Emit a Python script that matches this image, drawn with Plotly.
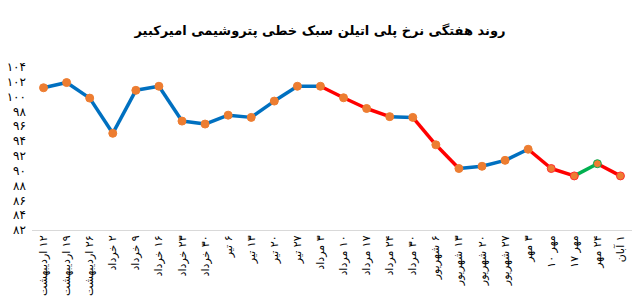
import plotly.graph_objects as go

# ---- data ----
week_labels = [
    "\u200f۱۲ اردیبهشت", "\u200f۱۹ اردیبهشت", "\u200f۲۶ اردیبهشت", "\u200f۲ خرداد",
    "\u200f۹ خرداد", "\u200f۱۶ خرداد", "\u200f۲۳ خرداد", "\u200f۳۰ خرداد",
    "\u200f۶ تیر", "\u200f۱۳ تیر", "\u200f۲۰ تیر", "\u200f۲۷ تیر",
    "\u200f۳ مرداد", "\u200f۱۰ مرداد", "\u200f۱۷ مرداد", "\u200f۲۴ مرداد",
    "\u200f۳۰ مرداد", "\u200f۶ شهریور", "\u200f۱۳ شهریور", "\u200f۲۰ شهریور",
    "\u200f۲۷ شهریور", "\u200f۳ مهر", "۱۰ مهر", "۱۷ مهر",
    "\u200f۲۴ مهر", "\u200f۱ آبان",
]
prices = [101.2, 101.9, 99.8, 95.05, 100.85, 101.4, 96.7, 96.3, 97.5, 97.2,
          99.4, 101.4, 101.4, 99.85, 98.4, 97.3, 97.2, 93.5, 90.3, 90.6,
          91.4, 92.9, 90.3, 89.3, 90.95, 89.3]
# colour of each segment (from point i to i+1)
segment_colors = (["blue"] * 12 +
                  ["red", "red", "red", "blue", "red", "red", "blue", "blue",
                   "blue", "red", "red", "green", "red"])
marker_edges = ["orange"] * 22 + ["red", "red", "green", "red"]
y_ticks = list(range(82, 105, 2))
y_tick_text = ["۸۲", "۸۴", "۸۶", "۸۸", "۹۰", "۹۲", "۹۴", "۹۶", "۹۸", "۱۰۰", "۱۰۲", "۱۰۴"]
title_text = "روند هفتگی نرخ پلی اتیلن سبک خطی پتروشیمی امیرکبیر"

palette = {"blue": "#0070C0", "red": "#FF0000", "green": "#00B050", "orange": "#ED7D31"}
edge_palette = {"orange": "#ED7D31", "red": "#FF3030", "green": "#00B050"}

xs = list(range(len(prices)))
fig = go.Figure()
for cname in ["blue", "red", "green"]:
    sx, sy = [], []
    for i, c in enumerate(segment_colors):
        if c == cname:
            sx += [xs[i], xs[i + 1], None]
            sy += [prices[i], prices[i + 1], None]
    fig.add_trace(go.Scatter(x=sx, y=sy, mode="lines",
                             line=dict(color=palette[cname], width=3.5),
                             hoverinfo="skip", showlegend=False))
fig.add_trace(go.Scatter(
    x=xs, y=prices, mode="markers",
    marker=dict(size=8, color=palette["orange"],
                line=dict(color=[edge_palette[c] for c in marker_edges], width=1)),
    showlegend=False))

fig.update_layout(
    width=640, height=307,
    margin=dict(l=32, r=8, t=67, b=77),
    paper_bgcolor="white", plot_bgcolor="white",
    font=dict(family="DejaVu Sans", color="black"),
    title=dict(text="<b>" + title_text + "</b>", x=0.5, xanchor="center",
               y=1 - 30 / 307, yanchor="middle",
               font=dict(size=13, family="DejaVu Sans", color="black")),
)
fig.update_xaxes(range=[-0.5, len(prices) - 0.5], tickmode="array",
                 tickvals=xs, ticktext=week_labels, tickangle=-90,
                 tickfont=dict(size=11, color="black"),
                 showgrid=False, zeroline=False, showline=True,
                 linecolor="#D9D9D9", linewidth=1, ticks="")
fig.update_yaxes(range=[82, 104], tickmode="array", tickvals=y_ticks,
                 ticktext=y_tick_text, tickfont=dict(size=12, color="black"),
                 ticklabelstandoff=5,
                 showgrid=False, zeroline=False, showline=False, ticks="")

fig.write_html("out.html")
